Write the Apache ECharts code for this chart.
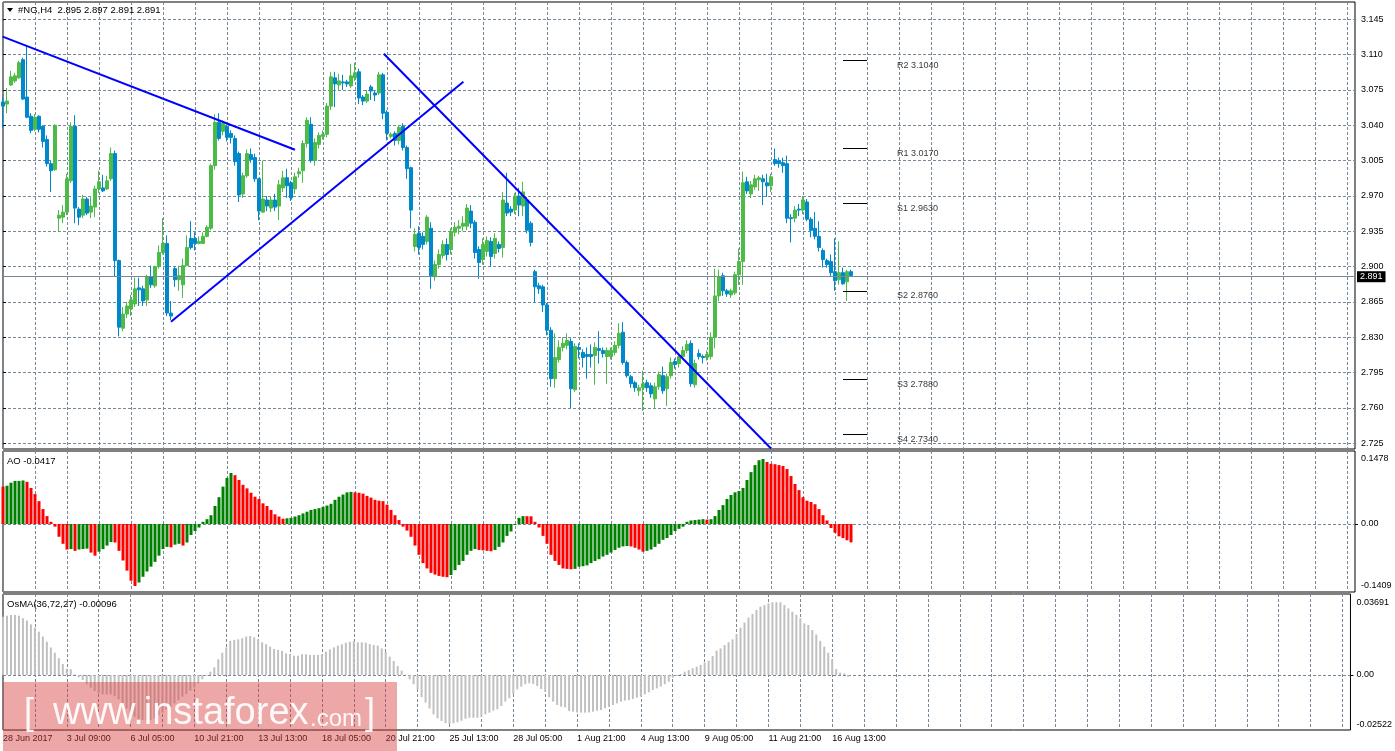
<!DOCTYPE html>
<html><head><meta charset="utf-8">
<script src="https://cdn.jsdelivr.net/npm/echarts@6/dist/echarts.min.js"></script>
<style>html,body{margin:0;padding:0;background:#fff}#chart{width:1395px;height:751px}</style>
</head><body><div id="chart"></div>
<script>
// ---------- DATA ----------
const xTickLabels = ['28 Jun 2017','3 Jul 09:00','6 Jul 05:00','10 Jul 21:00','13 Jul 13:00','18 Jul 05:00','20 Jul 21:00','25 Jul 13:00','28 Jul 05:00','1 Aug 21:00','4 Aug 13:00','9 Aug 05:00','11 Aug 21:00','16 Aug 13:00'];
const priceTicks = [2.725,2.760,2.795,2.830,2.865,2.900,2.935,2.970,3.005,3.040,3.075,3.110,3.145];

const opens = [3.063,3.061,3.080,3.084,3.087,3.105,3.068,3.049,3.036,3.049,
3.039,3.026,3.002,2.996,2.948,2.949,2.954,2.985,3.039,2.957,
2.951,2.967,2.954,2.959,2.977,2.978,2.977,2.987,3.012,2.906,
2.839,2.853,2.858,2.863,2.879,2.878,2.867,2.890,2.881,2.900,
2.914,2.923,2.854,2.898,2.887,2.882,2.901,2.928,2.928,2.923,
2.923,2.930,2.938,3.000,3.043,3.034,3.039,3.032,3.027,3.012,
2.972,2.990,3.011,3.008,2.987,2.954,2.966,2.958,2.966,2.960,
2.978,2.988,2.983,2.977,2.992,2.995,3.022,3.041,3.005,3.021,
3.029,3.031,3.059,3.087,3.080,3.083,3.083,3.079,3.087,3.093,
3.068,3.064,3.078,3.072,3.072,3.090,3.053,3.029,3.032,3.025,
3.039,3.018,2.998,2.920,2.933,2.930,2.925,2.938,2.890,2.902,
2.911,2.922,2.917,2.934,2.938,2.940,2.940,2.955,2.944,2.917,
2.907,2.915,2.925,2.913,2.922,2.919,2.963,2.957,2.956,2.970,
2.960,2.966,2.943,2.895,2.881,2.880,2.862,2.837,2.789,2.808,
2.820,2.822,2.826,2.778,2.820,2.815,2.813,2.813,2.812,2.819,
2.817,2.811,2.811,2.815,2.822,2.835,2.805,2.791,2.785,2.777,
2.780,2.785,2.782,2.769,2.781,2.792,2.779,2.792,2.806,2.804,
2.811,2.817,2.824,2.783,2.814,2.811,2.810,2.811,2.830,2.871,
2.891,2.876,2.872,2.874,2.892,2.905,2.984,2.972,2.979,2.986,
2.987,2.983,2.980,3.006,3.005,3.003,3.002,2.9485,2.948,2.957,
2.956,2.964,2.947,2.938,2.930,2.916,2.906,2.905,2.895,2.887,
2.894,2.885,2.895];
const highs = [3.068,3.077,3.094,3.092,3.104,3.107,3.119,3.052,3.051,3.050,
3.040,3.030,3.005,3.041,2.956,2.961,2.992,3.043,3.050,2.959,
2.971,2.969,2.970,2.980,2.995,2.991,2.990,3.018,3.015,2.907,
2.860,2.865,2.872,2.889,2.889,2.881,2.892,2.901,2.901,2.921,
2.948,2.931,2.866,2.900,2.901,2.908,2.931,2.945,2.934,2.930,
2.934,2.941,3.002,3.051,3.052,3.045,3.041,3.035,3.030,3.014,
2.993,3.016,3.017,3.012,2.988,3.005,2.970,2.970,2.972,2.986,
2.995,2.997,2.985,2.993,2.998,3.025,3.048,3.048,3.027,3.033,
3.035,3.062,3.093,3.093,3.091,3.090,3.085,3.101,3.102,3.096,
3.070,3.075,3.080,3.074,3.093,3.092,3.055,3.033,3.034,3.040,
3.042,3.020,2.999,2.938,2.940,2.934,2.951,2.944,2.906,2.917,
2.926,2.928,2.938,2.944,2.946,2.950,2.962,2.961,2.946,2.920,
2.928,2.930,2.929,2.933,2.925,2.974,2.993,2.960,2.973,2.978,
2.984,2.969,2.945,2.897,2.884,2.882,2.864,2.840,2.834,2.827,
2.830,2.834,2.829,2.824,2.824,2.818,2.820,2.823,2.825,2.836,
2.820,2.820,2.820,2.826,2.844,2.845,2.807,2.793,2.787,2.783,
2.797,2.788,2.785,2.785,2.796,2.801,2.794,2.810,2.809,2.814,
2.821,2.827,2.827,2.808,2.818,2.813,2.817,2.835,2.898,2.897,
2.894,2.878,2.878,2.895,2.918,2.994,2.989,2.985,2.991,2.990,
2.991,2.992,2.992,3.017,3.008,3.008,3.010,2.952,2.960,2.962,
2.970,2.967,2.949,2.954,2.945,2.918,2.908,2.912,2.928,2.925,
2.899,2.897,2.897];
const lows = [3.037,3.052,3.079,3.082,3.086,3.065,3.047,3.032,3.034,3.033,
3.018,2.999,2.974,2.995,2.935,2.943,2.951,2.983,2.943,2.941,
2.948,2.951,2.948,2.949,2.973,2.974,2.976,2.985,2.890,2.831,
2.836,2.849,2.851,2.860,2.861,2.861,2.861,2.879,2.879,2.898,
2.912,2.851,2.847,2.880,2.876,2.869,2.901,2.917,2.916,2.922,
2.923,2.929,2.936,2.996,3.025,3.030,3.024,3.022,3.000,2.964,
2.968,2.988,3.003,2.984,2.946,2.953,2.955,2.954,2.955,2.946,
2.974,2.968,2.965,2.972,2.988,2.983,3.018,3.003,3.000,3.017,
3.026,3.028,3.055,3.058,3.075,3.075,3.078,3.077,3.084,3.061,
3.060,3.062,3.065,3.064,3.070,3.046,3.025,3.027,3.020,3.021,
3.015,2.987,2.938,2.915,2.912,2.917,2.922,2.878,2.886,2.898,
2.908,2.906,2.912,2.930,2.932,2.935,2.936,2.938,2.908,2.888,
2.902,2.910,2.900,2.908,2.914,2.909,2.950,2.950,2.952,2.950,
2.950,2.933,2.920,2.865,2.873,2.855,2.832,2.781,2.780,2.805,
2.816,2.818,2.760,2.776,2.809,2.800,2.789,2.800,2.783,2.804,
2.810,2.784,2.808,2.812,2.819,2.803,2.790,2.780,2.776,2.772,
2.757,2.776,2.770,2.760,2.778,2.774,2.762,2.789,2.799,2.800,
2.808,2.814,2.781,2.780,2.808,2.804,2.807,2.808,2.819,2.866,
2.871,2.870,2.869,2.872,2.882,2.882,2.972,2.968,2.976,2.975,
2.961,2.969,2.974,3.000,2.998,2.993,2.943,2.924,2.944,2.950,
2.952,2.945,2.929,2.927,2.915,2.899,2.899,2.890,2.876,2.882,
2.882,2.866,2.891];
const closes = [3.059,3.064,3.088,3.089,3.102,3.066,3.048,3.035,3.048,3.036,
3.024,3.002,2.995,3.040,2.951,2.954,2.987,3.039,2.958,2.949,
2.967,2.953,2.960,2.977,2.984,2.975,2.985,3.012,2.906,2.840,
2.853,2.861,2.867,2.878,2.877,2.866,2.890,2.882,2.900,2.914,
2.923,2.854,2.851,2.887,2.891,2.901,2.919,2.919,2.923,2.925,
2.930,2.939,3.000,3.043,3.027,3.042,3.028,3.028,3.004,2.971,
2.990,3.012,3.006,2.987,2.955,2.967,2.960,2.966,2.959,2.981,
2.988,2.980,2.968,2.989,2.994,3.022,3.045,3.005,3.023,3.030,
3.031,3.059,3.088,3.081,3.084,3.082,3.081,3.089,3.092,3.067,
3.064,3.071,3.074,3.070,3.090,3.052,3.032,3.031,3.025,3.038,
3.018,2.997,2.956,2.932,2.919,2.922,2.949,2.891,2.902,2.912,
2.922,2.912,2.935,2.939,2.940,2.943,2.958,2.943,2.914,2.904,
2.922,2.926,2.910,2.928,2.918,2.966,2.953,2.954,2.970,2.961,
2.974,2.936,2.924,2.880,2.878,2.862,2.837,2.789,2.810,2.820,
2.824,2.827,2.779,2.821,2.818,2.810,2.811,2.811,2.820,2.817,
2.814,2.817,2.817,2.822,2.834,2.805,2.792,2.784,2.780,2.780,
2.784,2.780,2.774,2.781,2.793,2.777,2.791,2.805,2.803,2.811,
2.817,2.823,2.784,2.804,2.811,2.810,2.813,2.830,2.871,2.890,
2.876,2.873,2.876,2.892,2.905,2.983,2.975,2.981,2.987,2.988,
2.984,2.980,2.989,3.002,3.002,3.000,2.948,2.9475,2.956,2.956,
2.966,2.947,2.936,2.930,2.919,2.907,2.902,2.894,2.886,2.894,
2.883,2.895,2.891];

const lastPrice = 2.891;
const pivotNames = ['R2','R1','S1','S2','S3','S4'];
const pivotValues = [3.1040,3.0170,2.9630,2.8760,2.7880,2.7340];

// trend lines: [barIndex, price] end points
const trendLine1 = [[-0.1,3.1278],[73,3.0158]];
const trendLine2 = [[42,2.8454],[115.1,3.0832]];
const trendLine3 = [[95.2,3.1109],[192,2.7198]];

const aoValues = [0.085,0.087,0.094,0.098,0.098,0.099,0.096,0.082,0.068,0.052,
0.034,0.018,0.005,-0.006,-0.029,-0.045,-0.058,-0.057,-0.061,-0.058,
-0.057,-0.056,-0.065,-0.072,-0.063,-0.057,-0.049,-0.041,-0.042,-0.061,
-0.083,-0.106,-0.129,-0.1409,-0.133,-0.120,-0.108,-0.097,-0.086,-0.072,
-0.057,-0.052,-0.053,-0.047,-0.045,-0.049,-0.042,-0.025,-0.016,-0.008,
0.005,0.011,0.020,0.041,0.061,0.085,0.105,0.116,0.111,0.100,
0.089,0.081,0.071,0.062,0.057,0.047,0.041,0.032,0.022,0.017,
0.012,0.013,0.014,0.017,0.020,0.024,0.028,0.032,0.034,0.036,
0.039,0.042,0.046,0.055,0.062,0.067,0.072,0.073,0.072,0.071,
0.069,0.064,0.060,0.055,0.053,0.052,0.044,0.032,0.020,0.009,
-0.006,-0.015,-0.029,-0.049,-0.070,-0.089,-0.101,-0.111,-0.115,-0.118,
-0.120,-0.121,-0.116,-0.105,-0.093,-0.084,-0.070,-0.061,-0.057,-0.059,
-0.060,-0.061,-0.062,-0.059,-0.052,-0.042,-0.027,-0.017,-0.002,0.014,
0.018,0.0178,0.0175,0.005,-0.008,-0.027,-0.045,-0.070,-0.084,-0.093,
-0.101,-0.102,-0.103,-0.102,-0.097,-0.096,-0.094,-0.089,-0.084,-0.080,
-0.074,-0.070,-0.065,-0.059,-0.054,-0.051,-0.050,-0.051,-0.054,-0.058,
-0.063,-0.061,-0.058,-0.052,-0.045,-0.036,-0.032,-0.025,-0.016,-0.011,
-0.006,0.005,0.008,0.009,0.010,0.011,0.010,0.011,0.018,0.032,
0.043,0.057,0.066,0.072,0.075,0.082,0.100,0.118,0.134,0.145,
0.1478,0.141,0.137,0.136,0.134,0.132,0.125,0.109,0.091,0.077,
0.061,0.053,0.050,0.045,0.034,0.020,0.008,-0.009,-0.020,-0.028,
-0.032,-0.037,-0.0417];
// runs of bar colours: u = green (rising), d = red (falling)
const aoColorRuns = [[1,'d'],[5,'u'],[11,'d'],[1,'u'],[1,'d'],[3,'u'],[2,'d'],[4,'u'],[6,'d'],[8,'u'],[1,'d'],[2,'u'],[1,'d'],[12,'u'],[13,'d'],[17,'u'],[24,'d'],[7,'u'],[4,'d'],[8,'u'],[12,'d'],[14,'u'],[4,'d'],[15,'u'],[1,'d'],[14,'u'],[22,'d']];
const aoLabelValues = [0.1478, 0, -0.1409];
const aoLabelTexts = ['0.1478','0.00','-0.1409'];

const osmaValues = [0.0296,0.0301,0.0305,0.0305,0.0301,0.0288,0.0276,0.0257,0.0240,0.0220,
0.0195,0.0169,0.0140,0.0113,0.0085,0.0056,0.0032,0.0029,0.0003,-0.0012,
-0.0025,-0.0047,-0.0064,-0.0081,-0.0093,-0.0098,-0.0098,-0.0098,-0.0107,-0.0124,
-0.0144,-0.0169,-0.0191,-0.0212,-0.0225,-0.0228,-0.0232,-0.0228,-0.0220,-0.0206,
-0.0191,-0.0174,-0.0161,-0.0144,-0.0127,-0.0110,-0.0096,-0.0080,-0.0063,-0.0042,
-0.0022,-0.0005,0.0017,0.0039,0.0080,0.0113,0.0140,0.0174,0.0178,0.0181,
0.0186,0.0195,0.0198,0.0191,0.0181,0.0166,0.0156,0.0144,0.0132,0.0127,
0.0122,0.0110,0.0105,0.0098,0.0098,0.0105,0.0105,0.0102,0.0102,0.0102,
0.0105,0.0118,0.0130,0.0140,0.0149,0.0156,0.0164,0.0169,0.0173,0.0166,
0.0166,0.0164,0.0157,0.0152,0.0149,0.0135,0.0118,0.0093,0.0071,0.0046,
0.0022,0.0002,-0.0022,-0.0047,-0.0073,-0.0113,-0.0140,-0.0170,-0.0200,-0.0220,
-0.0233,-0.0244,-0.0249,-0.0245,-0.0240,-0.0232,-0.0222,-0.0217,-0.0217,-0.0217,
-0.0212,-0.0200,-0.0191,-0.0181,-0.0174,-0.0157,-0.0135,-0.0118,-0.0096,-0.0073,
-0.0059,-0.0047,-0.0042,-0.0046,-0.0056,-0.0071,-0.0085,-0.0113,-0.0135,-0.0152,
-0.0161,-0.0164,-0.0183,-0.0186,-0.0190,-0.0191,-0.0191,-0.0190,-0.0186,-0.0181,
-0.0178,-0.0169,-0.0161,-0.0152,-0.0144,-0.0135,-0.0130,-0.0127,-0.0122,-0.0115,
-0.0110,-0.0098,-0.0088,-0.0076,-0.0068,-0.0059,-0.0047,-0.0034,-0.0014,-0.0005,
0.0005,0.0017,0.0025,0.0034,0.0042,0.0051,0.0063,0.0073,0.0096,0.0124,
0.0135,0.0152,0.0166,0.0181,0.0206,0.0240,0.0266,0.0291,0.0310,0.0330,
0.0347,0.0355,0.0364,0.0369,0.03691,0.0369,0.0355,0.0338,0.0321,0.0305,
0.0288,0.0262,0.0254,0.0228,0.0206,0.0173,0.0144,0.0113,0.0080,0.0030,
0.0012,0.0008,-0.00096];
const osmaLabelValues = [0.03691, 0, -0.02522];
const osmaLabelTexts = ['0.03691','0.00','-0.02522'];

// ---------- CHART ----------
const SLOTS = 339;            // bar slots across the window (incl. empty space on the right)
const slots = Array.from({length: SLOTS}, (_, i) => String(i));
const FONT = '"Liberation Sans", Arial, sans-serif';
const GRID_C = '#778899';
const dash = [3, 2];

const candleData = opens.map((o, i) => [o, closes[i], lows[i], highs[i]]);
const aoFlags = [];
aoColorRuns.forEach(([n, c]) => { for (let k = 0; k < n; k++) aoFlags.push(c); });
const aoData = aoValues.map((v, i) => ({value: v, itemStyle: {color: aoFlags[i] === 'u' ? '#008000' : '#ff0000'}}));

function pickLabel(values, texts) {
  return v => { for (let i = 0; i < values.length; i++) if (Math.abs(values[i] - v) < 1e-7) return texts[i]; return ''; };
}

function catAxis(grid, withLabels) {
  return {
    type: 'category', gridIndex: grid, data: slots, boundaryGap: false,
    axisLine: {show: false}, axisTick: {show: false},
    axisLabel: withLabels ? {
      show: true, interval: 15, align: 'left', margin: 4, color: '#000',
      fontFamily: FONT, fontSize: 9,
      formatter: (v, idx) => (idx % 16 === 0 && xTickLabels[idx / 16]) ? xTickLabels[idx / 16] : ''
    } : {show: false},
    splitLine: {show: true, interval: 7, lineStyle: {color: GRID_C, type: dash, width: 1}}
  };
}

const chart = echarts.init(document.getElementById('chart'), null, {renderer: 'canvas'});
const option = {
  animation: false,
  backgroundColor: '#fff',
  grid: [
    {left: 3, right: 40, top: 2, height: 447, show: true, borderColor: '#000', borderWidth: 1, backgroundColor: '#fff'},
    {left: 3, right: 40, top: 451, height: 141, show: true, borderColor: '#000', borderWidth: 1, backgroundColor: '#fff'},
    {left: 3, right: 40, top: 594, height: 136, show: true, borderColor: '#000', borderWidth: 1, backgroundColor: '#fff'}
  ],
  xAxis: [
    catAxis(0, false), catAxis(1, false), catAxis(2, true),
    {type: 'value', gridIndex: 0, min: 0, max: SLOTS - 1, show: false}
  ],
  yAxis: [
    {
      type: 'value', gridIndex: 0, position: 'right', min: 2.71934, max: 3.16214, scale: true,
      axisLine: {show: false},
      axisTick: {show: true, length: 3, lineStyle: {color: '#000'}, customValues: priceTicks},
      axisLabel: {customValues: priceTicks, formatter: v => v.toFixed(3), margin: 6, color: '#000', fontFamily: FONT, fontSize: 9},
      splitLine: {show: true, lineStyle: {color: GRID_C, type: dash, width: 1}}
    },
    {
      type: 'value', gridIndex: 1, position: 'right', min: -0.1546, max: 0.1660,
      axisLine: {show: false},
      axisTick: {show: true, length: 3, lineStyle: {color: '#000'}, customValues: [0]},
      axisLabel: {customValues: aoLabelValues, formatter: pickLabel(aoLabelValues, aoLabelTexts), margin: 6, color: '#000', fontFamily: FONT, fontSize: 9},
      splitLine: {show: true, lineStyle: {color: GRID_C, type: dash, width: 1}}
    },
    {
      type: 'value', gridIndex: 2, position: 'right', min: -0.02792, max: 0.04112,
      axisLine: {show: false},
      axisTick: {show: true, length: 3, lineStyle: {color: '#000'}, customValues: [0]},
      axisLabel: {customValues: osmaLabelValues, formatter: pickLabel(osmaLabelValues, osmaLabelTexts), margin: 6, color: '#000', fontFamily: FONT, fontSize: 9},
      splitLine: {show: true, lineStyle: {color: GRID_C, type: dash, width: 1}}
    }
  ],
  series: [
    {
      type: 'candlestick', xAxisIndex: 0, yAxisIndex: 0, data: candleData, barWidth: 3, silent: true,
      itemStyle: {color: '#4cbb47', color0: '#0088cc', borderColor: '#4cbb47', borderColor0: '#0088cc', borderWidth: 1},
      markLine: {
        silent: true, symbol: ['none', 'none'], animation: false,
        lineStyle: {color: GRID_C, type: 'solid', width: 1},
        label: {show: true, position: 'end', distance: 2, formatter: () => lastPrice.toFixed(3),
          backgroundColor: '#000', color: '#fff', padding: [1, 3, 1, 3], fontFamily: FONT, fontSize: 9},
        data: [{yAxis: lastPrice}]
      }
    },
    ...[trendLine1, trendLine2, trendLine3].map(tl => ({
      type: 'line', xAxisIndex: 3, yAxisIndex: 0, data: tl, symbol: 'none', silent: true,
      lineStyle: {color: '#0000ff', width: 2}, z: 5
    })),
    {
      type: 'scatter', xAxisIndex: 3, yAxisIndex: 0, symbolSize: 0, silent: true,
      data: pivotValues.map(v => [223.5, v]),
      label: {show: true, position: 'right', distance: 0, offset: [0, 5], color: '#000', fontFamily: FONT, fontSize: 9,
        formatter: p => pivotNames[p.dataIndex] + ' ' + pivotValues[p.dataIndex].toFixed(4)},
      markLine: {
        silent: true, symbol: ['none', 'none'], animation: false,
        lineStyle: {color: '#000', type: 'solid', width: 1}, label: {show: false},
        data: pivotValues.map(v => [{coord: [210, v]}, {coord: [216, v]}])
      }
    },
    {type: 'bar', xAxisIndex: 1, yAxisIndex: 1, data: aoData, barWidth: 3, silent: true},
    {type: 'bar', xAxisIndex: 2, yAxisIndex: 2, data: osmaValues, barWidth: 2, silent: true, itemStyle: {color: '#c0c0c0'}}
  ],
  graphic: [
    {type: 'polygon', shape: {points: [[7, 8], [13, 8], [10, 12]]}, style: {fill: '#000'}, z: 100},
    {type: 'text', x: 18, y: 10, style: {text: '#NG,H4  2.895 2.897 2.891 2.891', fill: '#000', font: '9.5px ' + FONT, verticalAlign: 'middle'}, z: 100},
    {type: 'text', x: 7, y: 461, style: {text: 'AO -0.0417', fill: '#000', font: '9.5px ' + FONT, verticalAlign: 'middle'}, z: 100},
    {type: 'text', x: 7, y: 604, style: {text: 'OsMA(36,72,27) -0.00096', fill: '#000', font: '9.5px ' + FONT, verticalAlign: 'middle'}, z: 100},
    {type: 'rect', shape: {x: 3, y: 682, width: 394, height: 69}, style: {fill: 'rgba(215,60,60,0.45)'}, z: 200},
    {type: 'text', x: 24, y: 714, style: {text: '[', fill: 'rgba(255,255,255,0.92)', font: '36px ' + FONT, verticalAlign: 'middle'}, z: 201},
    {type: 'text', x: 53, y: 714, style: {text: 'www.instaforex', fill: 'rgba(255,255,255,0.92)', font: '38px ' + FONT, verticalAlign: 'middle'}, z: 201},
    {type: 'text', x: 310, y: 719, style: {text: '.com', fill: 'rgba(255,255,255,0.92)', font: '24px ' + FONT, verticalAlign: 'middle'}, z: 201},
    {type: 'text', x: 365, y: 714, style: {text: ']', fill: 'rgba(255,255,255,0.92)', font: '36px ' + FONT, verticalAlign: 'middle'}, z: 201}
  ]
};
chart.setOption(option);
</script></body></html>
